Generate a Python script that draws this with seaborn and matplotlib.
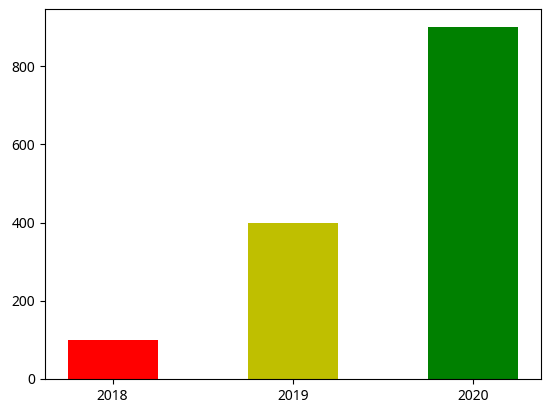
import matplotlib
matplotlib.use("Agg")
import matplotlib.pyplot as plt
import seaborn as sns

years = ['2018', '2019', '2020']
values = [100, 400, 900]
colors = ['r', 'y', 'g']

plt.rcParams['font.family'] = ['Noto Sans', 'Noto Sans CJK KR', 'DejaVu Sans']
plt.rcParams['font.size'] = 10

fig = plt.figure(figsize=(5.5, 4.12), dpi=100)
ax = fig.add_axes([45 / 550, 33 / 412, 496 / 550, 369.6 / 412])

sns.barplot(x=years, y=values, hue=years, palette=colors, width=0.5,
            saturation=1, legend=False, ax=ax)

ax.set_xlim(-0.375, 2.375)
ax.set_ylim(0, 945)
ax.set_xlabel('')
ax.set_ylabel('')
for s in ax.spines.values():
    s.set_visible(True)
    s.set_color('black')
    s.set_linewidth(0.8)

fig.savefig("out.png", dpi=100)
